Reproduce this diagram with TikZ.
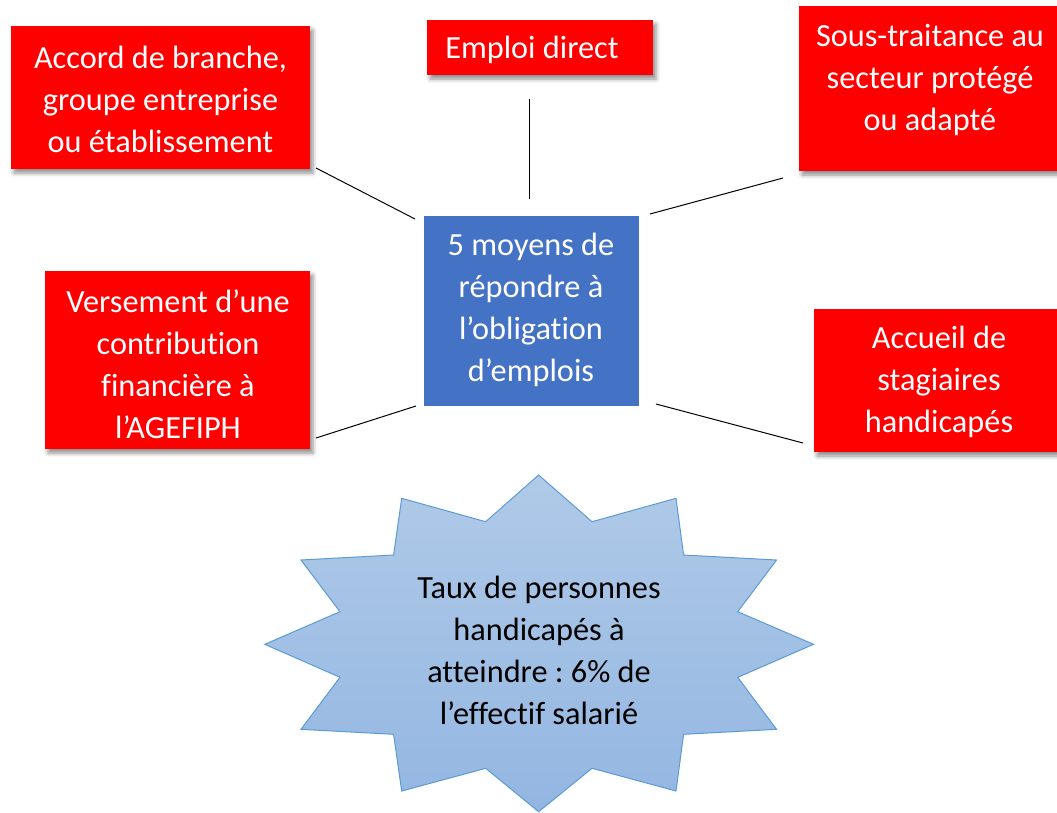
\documentclass[tikz,border=0pt]{standalone}
\usepackage{fontspec}
\setmainfont{Carlito}[Ligatures=NoCommon]
\usetikzlibrary{shadows.blur}
\definecolor{boxred}{HTML}{FF0000}
\definecolor{boxblue}{HTML}{4472C4}
\definecolor{startop}{HTML}{B0CAE8}
\definecolor{starbot}{HTML}{93B6E1}
\definecolor{starline}{HTML}{5B9BD5}
\tikzset{
  redbox/.style={fill=boxred, draw=none, inner sep=0pt,
    blur shadow={shadow xshift=3pt, shadow yshift=-4pt, shadow blur radius=4pt, shadow opacity=45}},
  bluebox/.style={fill=boxblue, draw=none, inner sep=0pt},
  txt/.style={align=center, inner sep=0pt, font=\fontsize{32.3}{42}\selectfont\frenchspacing},
  wtxt/.style={txt, text=white},
  link/.style={draw=black, line width=1pt}
}
\begin{document}
\begin{tikzpicture}[x=1pt, y=-1pt]
\useasboundingbox (0,0) rectangle (1057,812);
\clip (0,0) rectangle (1057,812);
% boxes
\node[redbox, minimum width=299pt, minimum height=143pt] (accordbox) at (160.5,97.5) {};
\node[wtxt] (accord) at (160.5,99) {Accord de branche,\\groupe entreprise\\ou établissement};
\node[redbox, minimum width=226pt, minimum height=55pt] (emploibox) at (540,47.5) {};
\node[wtxt] (emploi) at (532,49.5) {Emploi direct};
\node[redbox, minimum width=270pt, minimum height=165pt] (soustbox) at (934,88.5) {};
\node[wtxt] (soust) at (930,80) {Sous-traitance au\\secteur protégé\\ou adapté};
\node[redbox, minimum width=265pt, minimum height=178pt] (versbox) at (177.5,360) {};
\node[wtxt] (vers) at (178,364.5) {Versement d’une\\contribution\\financière à\\l’AGEFIPH};
\node[redbox, minimum width=250pt, minimum height=143pt] (accueilbox) at (939,380.5) {};
\node[wtxt] (accueil) at (939,382) {Accueil de\\stagiaires\\handicapés};
\node[bluebox, minimum width=215pt, minimum height=190pt] (centrebox) at (531.5,311) {};
\node[wtxt] (centre) at (531,310) {5 moyens de\\répondre à\\l’obligation\\d’emplois};
% star
\path[top color=startop, bottom color=starbot, draw=starline, line width=1pt]
  (538.6,475) -- (592,521.7) -- (676,498.3) -- (683.6,555) -- (776.5,560) -- (737.7,611.7)
  -- (813.5,644.3) -- (737.7,677.3) -- (776.5,729.3) -- (683.6,734.3) -- (676,791)
  -- (592,768.3) -- (538.6,811.7) -- (485.7,768.3) -- (401.7,791) -- (393.6,734.3)
  -- (301,729.3) -- (340,677.3) -- (264.8,644.3) -- (340,611.7) -- (301,560)
  -- (393.6,555) -- (401.7,498.3) -- (485.7,521.7) -- cycle;
\node[txt] (taux) at (539,650) {Taux de personnes\\handicapés à\\atteindre : 6\% de\\l’effectif salarié};
% connector end points
\coordinate (a1) at (316,168); \coordinate (a2) at (415,219);
\coordinate (e1) at (529,99);  \coordinate (e2) at (529,199);
\coordinate (s1) at (783,178); \coordinate (s2) at (650,214);
\coordinate (v1) at (316,438); \coordinate (v2) at (416,406);
\coordinate (c1) at (803,443); \coordinate (c2) at (656,404);
\draw[link] (a1) -- (a2);
\draw[link] (e1) -- (e2);
\draw[link] (s1) -- (s2);
\draw[link] (v1) -- (v2);
\draw[link] (c1) -- (c2);
\end{tikzpicture}
\end{document}
